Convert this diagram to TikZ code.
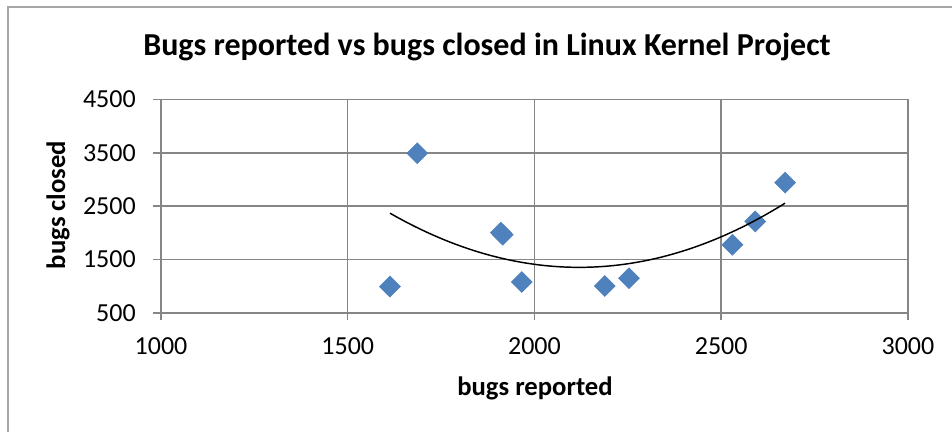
\documentclass[tikz,border=0pt]{standalone}
\usepackage{fontspec}
\setmainfont{Carlito}
\usetikzlibrary{shapes.geometric}
\definecolor{gridgray}{HTML}{868686}
\definecolor{framegray}{HTML}{A6A6A6}
\definecolor{markblue}{HTML}{4F81BD}

\begin{document}
\begin{tikzpicture}[x=0.75pt, y=-0.75pt,
  gridline/.style={gridgray, line width=1.1pt},
  ticklabel/.style={font=\fontsize{19.5}{22}\selectfont, inner sep=0pt},
  axislabel/.style={font=\fontsize{20}{22}\selectfont\bfseries, inner sep=0pt},
  datapoint/.style={diamond, fill=markblue, inner sep=0pt, minimum size=16.5pt},
  trend/.style={black, line width=1.1pt}
]
\useasboundingbox (0,0) rectangle (952,432);

% chart area border
\draw[framegray, line width=1.5pt] (8,432) -- (8,7) -- (952,7);

\node[font=\fontsize{24}{27}\selectfont\bfseries, inner sep=0pt] (title) at (487,47) {Bugs reported vs bugs closed in Linux Kernel Project};

% plot area, in data units
\begin{scope}[shift={(161,313)}, x=0.2801pt, y=0.04006pt, shift={(-1000,-500)}]
  \foreach \gx in {1000,1500,...,3000}
    \draw[gridline] (\gx,369) -- (\gx,4500);
  \foreach \gy in {500,1500,...,4500}
    \draw[gridline] (979,\gy) -- (3000,\gy);

  \foreach \gx in {1000,1500,...,3000}
    \node[ticklabel] (xt\gx) at (\gx,-127) {\gx};
  \foreach \gy in {500,1500,...,4500}
    \node[ticklabel, anchor=east] (yt\gy) at (933,\gy) {\gy};

  \foreach \px/\py [count=\i] in {1613/995, 1686/3490, 1910/2005, 1915/1965, 1966/1080,
      2188/1005, 2253/1150, 2530/1777, 2591/2215, 2671/2940}
    \node[datapoint] (p\i) at (\px,\py) {};

  % polynomial trendline
  \draw[trend] plot[domain=1613:2671, samples=80] (\x, {(0.06286*(\x-2119.6))^2+1355});
\end{scope}

\node[axislabel] (xlabel) at (535,388) {bugs reported};
\node[axislabel, rotate=90] (ylabel) at (58,205) {bugs closed};
\end{tikzpicture}
\end{document}
